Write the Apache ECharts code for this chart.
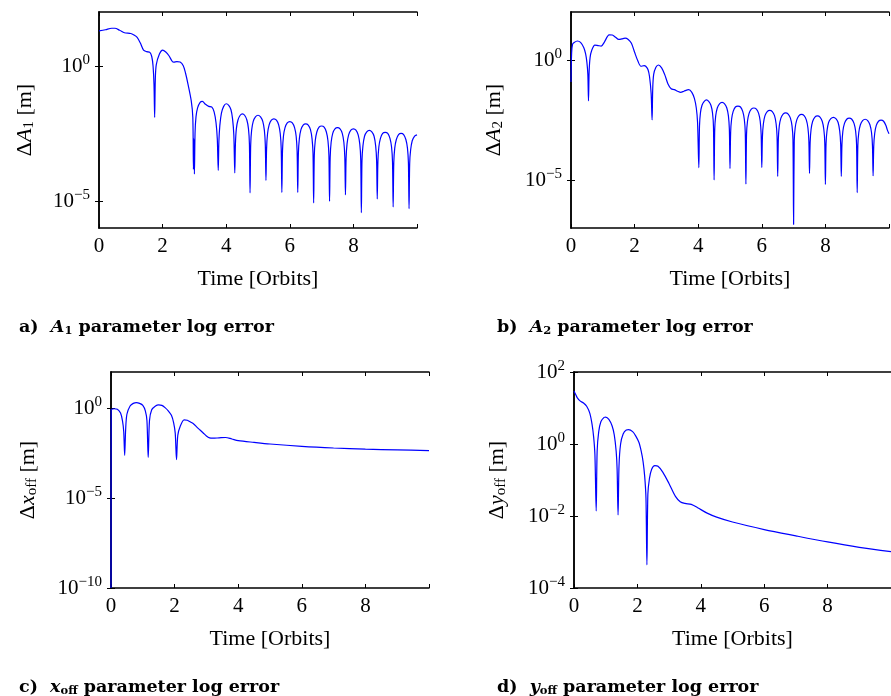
<!DOCTYPE html>
<html>
<head>
<meta charset="utf-8">
<script src="https://cdn.jsdelivr.net/npm/echarts@6/dist/echarts.min.js"></script>
<style>
html,body{margin:0;padding:0;background:#fff;}
#container{width:891px;height:696px;}
</style>
</head>
<body>
<div id="container"></div>
<script>
// time axis ticks / labels
var timeTicks = [0, 2, 4, 6, 8, 10];
var timeLabels = [0, 2, 4, 6, 8];

// a) A1 error
var tA1 = [0,0.2,0.4,0.5,0.65,0.8,1.0,1.1,1.2,1.3,1.4,1.5,1.6,1.66,1.7,1.73,1.75,1.77,1.8,1.9,2.0,2.1,2.2,2.3,2.35,2.45,2.55,2.65,2.72,2.8,2.9,2.95,2.97,2.985,3.0,
    3.02,3.05,3.1,3.18,3.25,3.35,3.45,3.55,3.62,3.68,3.72,3.75,
    3.77,3.8,3.85,3.92,4.0,4.08,4.15,4.2,4.24,4.27,
    4.29,4.32,4.37,4.44,4.51,4.58,4.65,4.70,4.73,4.75,
    4.77,4.80,4.85,4.92,5.00,5.08,5.15,5.20,5.23,5.25,
    5.27,5.30,5.35,5.42,5.50,5.58,5.65,5.70,5.73,5.75,
    5.77,5.80,5.85,5.92,6.00,6.08,6.15,6.20,6.23,6.25,
    6.27,6.30,6.35,6.42,6.50,6.58,6.65,6.70,6.73,6.75,
    6.77,6.80,6.85,6.92,7.00,7.08,7.15,7.20,7.23,7.25,
    7.27,7.30,7.35,7.42,7.50,7.58,7.65,7.70,7.73,7.75,
    7.77,7.80,7.85,7.92,8.00,8.08,8.15,8.20,8.23,8.25,
    8.27,8.30,8.35,8.42,8.50,8.58,8.65,8.70,8.73,8.75,
    8.77,8.80,8.85,8.92,9.00,9.08,9.15,9.20,9.23,9.25,
    9.27,9.30,9.35,9.42,9.50,9.58,9.65,9.70,9.73,9.75,
    9.77,9.80,9.85,9.92,10.0];
var errA1 = [20,22,25,25,21,17,16,14,11.5,7.1,3.9,3.4,3.2,2.2,1.0,0.2,0.0126,0.3,1.1,2.8,3.9,3.3,2.4,1.5,1.38,1.45,1.4,1.02,0.55,0.21,0.052,0.0126,1.5e-4,2.0e-3,1.0e-4,
    3.2e-3,1.3e-2,2.8e-2,4.5e-2,4.9e-2,3.8e-2,3.2e-2,3.0e-2,2.0e-2,7.9e-3,2.0e-3,1.35e-4,
    1.6e-3,6.3e-3,1.8e-2,3.2e-2,4.0e-2,3.5e-2,2.4e-2,1.1e-2,2.8e-3,1.1e-4,
    1.3e-3,4.8e-3,1.0e-2,1.5e-2,1.7e-2,1.5e-2,1.0e-2,4.8e-3,1.3e-3,2.0e-5,
    1.2e-3,4.2e-3,8.9e-3,1.3e-2,1.5e-2,1.3e-2,8.9e-3,4.2e-3,1.2e-3,5.8e-5,
    8.7e-4,3.1e-3,6.6e-3,9.8e-3,1.1e-2,9.8e-3,6.6e-3,3.1e-3,8.7e-4,2.1e-5,
    6.9e-4,2.5e-3,5.2e-3,7.8e-3,8.7e-3,7.8e-3,5.2e-3,2.5e-3,6.9e-4,2.1e-5,
    5.8e-4,2.0e-3,4.4e-3,6.5e-3,7.2e-3,6.5e-3,4.4e-3,2.0e-3,5.8e-4,8.5e-6,
    4.8e-4,1.7e-3,3.6e-3,5.4e-3,6.0e-3,5.4e-3,3.6e-3,1.7e-3,4.8e-4,9.8e-6,
    4.2e-4,1.5e-3,3.2e-3,4.7e-3,5.2e-3,4.7e-3,3.2e-3,1.5e-3,4.2e-4,1.7e-5,
    3.7e-4,1.3e-3,2.8e-3,4.2e-3,4.7e-3,4.2e-3,2.8e-3,1.3e-3,3.7e-4,3.7e-6,
    3.2e-4,1.1e-3,2.5e-3,3.6e-3,4.1e-3,3.6e-3,2.5e-3,1.1e-3,3.2e-4,1.2e-5,
    2.8e-4,1.0e-3,2.1e-3,3.2e-3,3.5e-3,3.2e-3,2.1e-3,1.0e-3,2.8e-4,6.0e-6,
    2.6e-4,9.1e-4,1.9e-3,2.9e-3,3.2e-3,2.9e-3,1.9e-3,9.1e-4,2.6e-4,5.2e-6,
    2.5e-4,7.9e-4,1.7e-3,2.5e-3,2.8e-3];

// b) A2 error
var tA2 = [0,0.02,0.05,0.1,0.2,0.3,0.4,0.46,0.5,0.53,0.55,0.57,0.6,0.65,0.75,0.85,0.95,1.05,1.2,1.3,1.4,1.5,1.6,1.7,1.8,1.9,2.0,2.1,2.2,2.3,2.35,2.42,2.47,2.52,2.55,2.57,2.6,2.67,2.75,2.85,2.95,3.05,3.15,3.25,3.35,3.45,3.55,3.7,3.8,3.88,3.94,3.98,4.02,
    4.04,4.07,4.12,4.19,4.26,4.33,4.40,4.45,4.48,4.50,
    4.52,4.55,4.60,4.67,4.75,4.83,4.90,4.95,4.98,5.00,
    5.02,5.05,5.10,5.17,5.25,5.33,5.40,5.45,5.48,5.50,
    5.52,5.55,5.60,5.67,5.75,5.83,5.90,5.95,5.98,6.00,
    6.02,6.05,6.10,6.17,6.25,6.33,6.40,6.45,6.48,6.50,
    6.52,6.55,6.60,6.67,6.75,6.83,6.90,6.95,6.98,7.00,
    7.02,7.05,7.10,7.17,7.25,7.33,7.40,7.45,7.48,7.50,
    7.52,7.55,7.60,7.67,7.75,7.83,7.90,7.95,7.98,8.00,
    8.02,8.05,8.10,8.17,8.25,8.33,8.40,8.45,8.48,8.50,
    8.52,8.55,8.60,8.67,8.75,8.83,8.90,8.95,8.98,9.00,
    9.02,9.05,9.10,9.17,9.25,9.33,9.40,9.45,9.48,9.50,
    9.52,9.55,9.60,9.67,9.75,9.83,9.90,9.95,10.0];
var errA2 = [0.12,2.0,4.6,5.4,6.2,5.4,3.3,1.8,0.8,0.25,0.02,0.32,1.26,2.5,4.2,4.0,3.8,5.6,11.2,11,8.9,7.2,7.6,8.1,7.2,5.0,2.1,0.93,0.55,0.58,0.55,0.4,0.2,0.04,3.2e-3,0.063,0.25,0.5,0.62,0.47,0.24,0.1,0.063,0.058,0.05,0.045,0.05,0.058,0.045,0.025,0.01,2.5e-3,3.3e-5,
    1.7e-3,6.2e-3,1.3e-2,1.9e-2,2.2e-2,1.9e-2,1.3e-2,6.2e-3,1.7e-3,1.0e-5,
    1.3e-3,4.7e-3,1.0e-2,1.5e-2,1.7e-2,1.5e-2,1.0e-2,4.7e-3,1.3e-3,3.0e-5,
    9.5e-4,3.4e-3,7.2e-3,1.1e-2,1.2e-2,1.1e-2,7.2e-3,3.4e-3,9.5e-4,6.8e-6,
    7.9e-4,2.8e-3,6.0e-3,8.9e-3,1.0e-2,8.9e-3,6.0e-3,2.8e-3,7.9e-4,3.3e-5,
    6.3e-4,2.2e-3,4.8e-3,7.1e-3,7.9e-3,7.1e-3,4.8e-3,2.2e-3,6.3e-4,1.4e-5,
    5.0e-4,1.8e-3,3.8e-3,5.6e-3,6.3e-3,5.6e-3,3.8e-3,1.8e-3,5.0e-4,1.4e-7,
    4.3e-4,1.5e-3,3.2e-3,4.8e-3,5.4e-3,4.8e-3,3.2e-3,1.5e-3,4.3e-4,1.9e-5,
    3.7e-4,1.3e-3,2.8e-3,4.2e-3,4.7e-3,4.2e-3,2.8e-3,1.3e-3,3.7e-4,6.6e-6,
    3.2e-4,1.1e-3,2.5e-3,3.6e-3,4.1e-3,3.6e-3,2.5e-3,1.1e-3,3.2e-4,1.4e-5,
    3.0e-4,1.1e-3,2.3e-3,3.4e-3,3.8e-3,3.4e-3,2.3e-3,1.1e-3,3.0e-4,3.0e-6,
    2.7e-4,9.5e-4,2.0e-3,3.0e-3,3.4e-3,3.0e-3,2.0e-3,9.5e-4,2.7e-4,1.5e-5,
    2.5e-4,8.7e-4,1.9e-3,2.8e-3,3.1e-3,2.8e-3,1.9e-3,1.2e-3,8.5e-4];

// c) x_off error
var tXoff = [0,0.005,0.1,0.2,0.3,0.36,0.4,0.43,0.46,0.5,0.6,0.7,0.8,0.9,1.0,1.08,1.13,1.17,1.21,1.28,1.4,1.5,1.6,1.7,1.8,1.9,1.97,2.02,2.06,2.1,2.18,2.3,2.4,2.5,2.6,2.7,2.8,2.9,3.0,3.1,3.2,3.4,3.6,3.8,4.0,4.5,5.0,6.0,7.0,8.0,9.0,10];
var errXoff = [1e-10,0.8,0.91,0.86,0.52,0.2,0.05,0.0023,0.06,0.45,1.3,1.8,2.0,1.8,1.4,0.7,0.2,0.0018,0.2,0.8,1.3,1.48,1.4,1.05,0.7,0.39,0.15,0.04,0.00135,0.03,0.1,0.22,0.21,0.166,0.13,0.087,0.06,0.041,0.028,0.022,0.021,0.022,0.023,0.019,0.0155,0.0123,0.01,0.0074,0.006,0.0052,0.0047,0.0043];

// d) y_off error
var tYoff = [0,0.05,0.1,0.2,0.3,0.4,0.5,0.57,0.62,0.66,0.7,0.73,0.78,0.85,0.95,1.0,1.1,1.2,1.27,1.33,1.36,1.39,1.42,1.47,1.55,1.65,1.72,1.85,1.95,2.05,2.12,2.18,2.23,2.27,2.3,2.33,2.38,2.45,2.55,2.65,2.8,3.0,3.2,3.35,3.5,3.7,3.9,4.2,4.5,5.0,6.0,7.0,8.0,9.0,10.0];
var errYoff = [29.5,24,19.5,15.5,13.8,11.2,7.1,3.5,1.55,0.5,0.0138,0.63,2.2,4.2,5.5,5.6,4.8,3.2,1.8,0.63,0.2,0.0107,0.25,1.0,1.9,2.45,2.5,2.2,1.66,1.1,0.63,0.32,0.126,0.032,4.4e-4,0.04,0.11,0.2,0.25,0.24,0.166,0.079,0.035,0.025,0.0224,0.021,0.017,0.012,0.0093,0.0068,0.0042,0.0028,0.0019,0.00135,0.00102];

// y ranges and labelled decades
var yRangeA1 = [1e-6, 1e2],  yLabelsA1 = [1e-5, 1];
var yRangeA2 = [1e-7, 1e2],  yLabelsA2 = [1e-5, 1];
var yRangeX  = [1e-10, 1e2], yLabelsX  = [1e-10, 1e-5, 1];
var yRangeY  = [1e-4, 1e2],  yLabelsY  = [1e-4, 1e-2, 1, 1e2];

var FONT = '"Liberation Serif", "Times New Roman", serif';
var CAPFONT = '"DejaVu Serif", serif';

function pairs(t, v) {
    var out = [];
    for (var i = 0; i < t.length; i++) out.push([t[i], v[i]]);
    return out;
}

function powLabel(v) {
    var e = Math.round(Math.log10(v));
    return '{b|10}{s|' + (e < 0 ? '\u2212' + (-e) : e) + '}';
}

var labelRich = {
    b: {fontFamily: FONT, fontSize: 21, color: '#000'},
    s: {fontFamily: FONT, fontSize: 15, color: '#000', padding: [0, 0, 11, 0]}
};
var nameRich = {
    n: {fontFamily: FONT, fontSize: 22, color: '#000'},
    i: {fontFamily: FONT, fontSize: 22, fontStyle: 'italic', color: '#000'},
    sub: {fontFamily: FONT, fontSize: 15, color: '#000', padding: [9, 0, 0, 0]}
};

var lineAxis = {show: true, lineStyle: {color: '#000', width: 1.5}};

var grids = [
    {left: 99, top: 12, width: 318, height: 216},
    {left: 571, top: 12, width: 318, height: 216},
    {left: 111, top: 372, width: 318, height: 216},
    {left: 574, top: 372, width: 327, height: 216}
];
var yNames = [
    '{n|\u0394}{i|A}{sub|1}{n| [m]}',
    '{n|\u0394}{i|A}{sub|2}{n| [m]}',
    '{n|\u0394}{i|x}{sub|off}{n| [m]}',
    '{n|\u0394}{i|y}{sub|off}{n| [m]}'
];
var yNameGaps = [62, 65, 71, 65];
var yRanges = [yRangeA1, yRangeA2, yRangeX, yRangeY];
var yLabels = [yLabelsA1, yLabelsA2, yLabelsX, yLabelsY];
var seriesData = [pairs(tA1, errA1), pairs(tA2, errA2), pairs(tXoff, errXoff), pairs(tYoff, errYoff)];

var xAxes = [], yAxes = [], series = [];
for (var g = 0; g < 4; g++) {
    xAxes.push({
        gridIndex: g, type: 'value', min: 0, max: 10, interval: 2, position: 'bottom',
        name: 'Time [Orbits]', nameLocation: 'middle', nameGap: 40,
        nameTextStyle: {fontFamily: FONT, fontSize: 22, color: '#000'},
        axisLine: lineAxis,
        axisTick: {inside: true, length: 4, lineStyle: {color: '#000'}, customValues: timeTicks},
        axisLabel: {fontFamily: FONT, fontSize: 21, color: '#000', margin: 8, customValues: timeLabels},
        splitLine: {show: false}
    });
    xAxes.push({
        gridIndex: g, type: 'value', min: 0, max: 10, interval: 2, position: 'top',
        axisLine: lineAxis,
        axisTick: {inside: true, length: 4, lineStyle: {color: '#000'}, customValues: timeTicks},
        axisLabel: {show: false},
        splitLine: {show: false}
    });
    yAxes.push({
        gridIndex: g, type: 'log', logBase: 10, min: yRanges[g][0], max: yRanges[g][1], position: 'left',
        name: yNames[g], nameLocation: 'middle', nameRotate: 90, nameGap: yNameGaps[g],
        nameTextStyle: {fontFamily: FONT, fontSize: 22, color: '#000', rich: nameRich},
        axisLine: lineAxis,
        axisTick: {inside: true, length: 4, lineStyle: {color: '#000'}, customValues: yLabels[g]},
        axisLabel: {formatter: powLabel, rich: labelRich, margin: 9, customValues: yLabels[g]},
        splitLine: {show: false}, minorTick: {show: false}
    });
    yAxes.push({
        gridIndex: g, type: 'log', logBase: 10, min: yRanges[g][0], max: yRanges[g][1], position: 'right',
        axisLine: lineAxis,
        axisTick: {inside: true, length: 4, lineStyle: {color: '#000'}, customValues: yLabels[g]},
        axisLabel: {show: false},
        splitLine: {show: false}
    });
    series.push({
        type: 'line', xAxisIndex: 2 * g, yAxisIndex: 2 * g,
        data: seriesData[g], showSymbol: false, symbol: 'none', smooth: 0.3,
        lineStyle: {color: '#0000ff', width: 1.2}, clip: true
    });
}

var capRich = {
    b: {fontFamily: CAPFONT, fontWeight: 'bold', fontSize: 17.5, color: '#000'},
    bi: {fontFamily: CAPFONT, fontWeight: 'bold', fontStyle: 'italic', fontSize: 17.5, color: '#000'},
    bs: {fontFamily: CAPFONT, fontWeight: 'bold', fontSize: 11.5, color: '#000', padding: [8, 0, 0, 0]}
};
function caption(x, y, text) {
    return {
        type: 'text', left: x, top: y,
        style: {text: text, rich: capRich, fill: '#000', font: 'bold 17.5px "DejaVu Serif"'}
    };
}

var dom = document.getElementById('container');
var myChart = echarts.init(dom);
var option = {
    animation: false,
    backgroundColor: '#fff',
    grid: grids,
    xAxis: xAxes,
    yAxis: yAxes,
    series: series,
    graphic: [
        caption(19, 318, '{b|a)}{b|  }{bi|A}{bs|1}{b| parameter log error}'),
        caption(497, 318, '{b|b)}{b|  }{bi|A}{bs|2}{b| parameter log error}'),
        caption(19, 678, '{b|c)}{b|  }{bi|x}{bs|off}{b| parameter log error}'),
        caption(497, 678, '{b|d)}{b|  }{bi|y}{bs|off}{b| parameter log error}')
    ]
};
myChart.setOption(option);
</script>
</body>
</html>
